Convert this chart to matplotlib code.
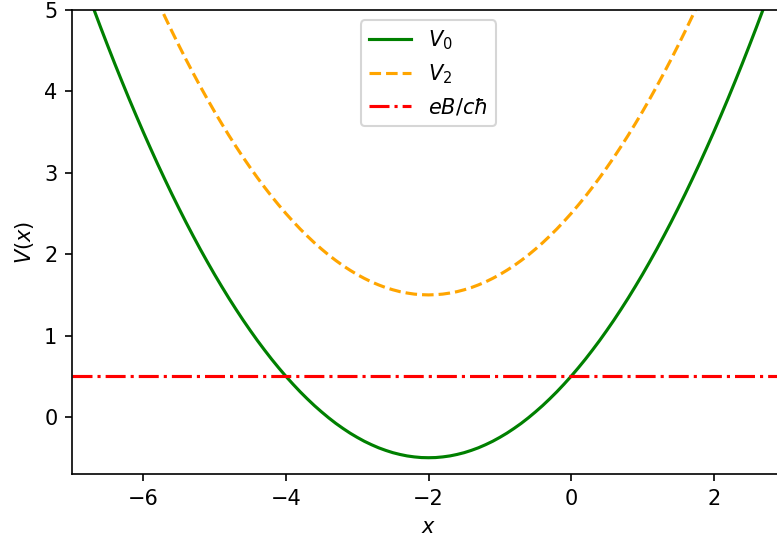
import matplotlib
matplotlib.use('Agg')
import matplotlib.pyplot as plt

x = [-7.0, -6.9, -6.8, -6.7, -6.6, -6.5, -6.4, -6.3, -6.2, -6.1,
     -6.0, -5.9, -5.8, -5.7, -5.6, -5.5, -5.4, -5.3, -5.2, -5.1,
     -5.0, -4.9, -4.8, -4.7, -4.6, -4.5, -4.4, -4.3, -4.2, -4.1,
     -4.0, -3.9, -3.8, -3.7, -3.6, -3.5, -3.4, -3.3, -3.2, -3.1,
     -3.0, -2.9, -2.8, -2.7, -2.6, -2.5, -2.4, -2.3, -2.2, -2.1,
     -2.0,
     -1.9, -1.8, -1.7, -1.6, -1.5, -1.4, -1.3, -1.2, -1.1, -1.0,
     -0.9, -0.8, -0.7, -0.6, -0.5, -0.4, -0.3, -0.2, -0.1, 0.0,
     0.1, 0.2, 0.3, 0.4, 0.5, 0.6, 0.7, 0.8, 0.9, 1.0,
     1.1, 1.2, 1.3, 1.4, 1.5, 1.6, 1.7, 1.8, 1.9, 2.0,
     2.1, 2.2, 2.3, 2.4, 2.5, 2.6, 2.7, 2.8, 2.9, 3.0]
v0 = [5.75, 5.503, 5.26, 5.023, 4.79, 4.563, 4.34, 4.123, 3.91, 3.703,
      3.5, 3.303, 3.11, 2.923, 2.74, 2.563, 2.39, 2.223, 2.06, 1.903,
      1.75, 1.603, 1.46, 1.323, 1.19, 1.063, 0.94, 0.823, 0.71, 0.603,
      0.5, 0.403, 0.31, 0.223, 0.14, 0.063, -0.01, -0.078, -0.14, -0.198,
      -0.25, -0.298, -0.34, -0.378, -0.41, -0.438, -0.46, -0.478, -0.49, -0.498,
      -0.5,
      -0.498, -0.49, -0.478, -0.46, -0.438, -0.41, -0.378, -0.34, -0.298, -0.25,
      -0.198, -0.14, -0.078, -0.01, 0.063, 0.14, 0.223, 0.31, 0.403, 0.5,
      0.603, 0.71, 0.823, 0.94, 1.063, 1.19, 1.323, 1.46, 1.603, 1.75,
      1.903, 2.06, 2.223, 2.39, 2.563, 2.74, 2.923, 3.11, 3.303, 3.5,
      3.703, 3.91, 4.123, 4.34, 4.563, 4.79, 5.023, 5.26, 5.503, 5.75]
v2 = [7.75, 7.503, 7.26, 7.023, 6.79, 6.563, 6.34, 6.123, 5.91, 5.703,
      5.5, 5.303, 5.11, 4.923, 4.74, 4.563, 4.39, 4.223, 4.06, 3.903,
      3.75, 3.603, 3.46, 3.323, 3.19, 3.063, 2.94, 2.823, 2.71, 2.603,
      2.5, 2.403, 2.31, 2.223, 2.14, 2.063, 1.99, 1.923, 1.86, 1.803,
      1.75, 1.703, 1.66, 1.623, 1.59, 1.563, 1.54, 1.523, 1.51, 1.503,
      1.5,
      1.503, 1.51, 1.523, 1.54, 1.563, 1.59, 1.623, 1.66, 1.703, 1.75,
      1.803, 1.86, 1.923, 1.99, 2.063, 2.14, 2.223, 2.31, 2.403, 2.5,
      2.603, 2.71, 2.823, 2.94, 3.063, 3.19, 3.323, 3.46, 3.603, 3.75,
      3.903, 4.06, 4.223, 4.39, 4.563, 4.74, 4.923, 5.11, 5.303, 5.5,
      5.703, 5.91, 6.123, 6.34, 6.563, 6.79, 7.023, 7.26, 7.503, 7.75]
field_level = 0.5

DPI = 150
fig = plt.figure(figsize=(777 / DPI, 542 / DPI), dpi=DPI)
ax = fig.add_axes([72 / 777, 68 / 542, 713 / 777, 464 / 542])

ax.plot(x, v0, color='green', label='$V_0$')
ax.plot(x, v2, color='orange', ls='--', label='$V_2$')
ax.axhline(field_level, color='red', ls='-.', label=r'$eB/c\hbar$')

ax.set_xlim(-7, 3)
ax.set_ylim(-0.7, 5)
ax.set_xlabel('$x$')
ax.set_ylabel('$V(x)$')
ax.legend(loc='upper center')

fig.savefig('out.png', dpi=DPI)
